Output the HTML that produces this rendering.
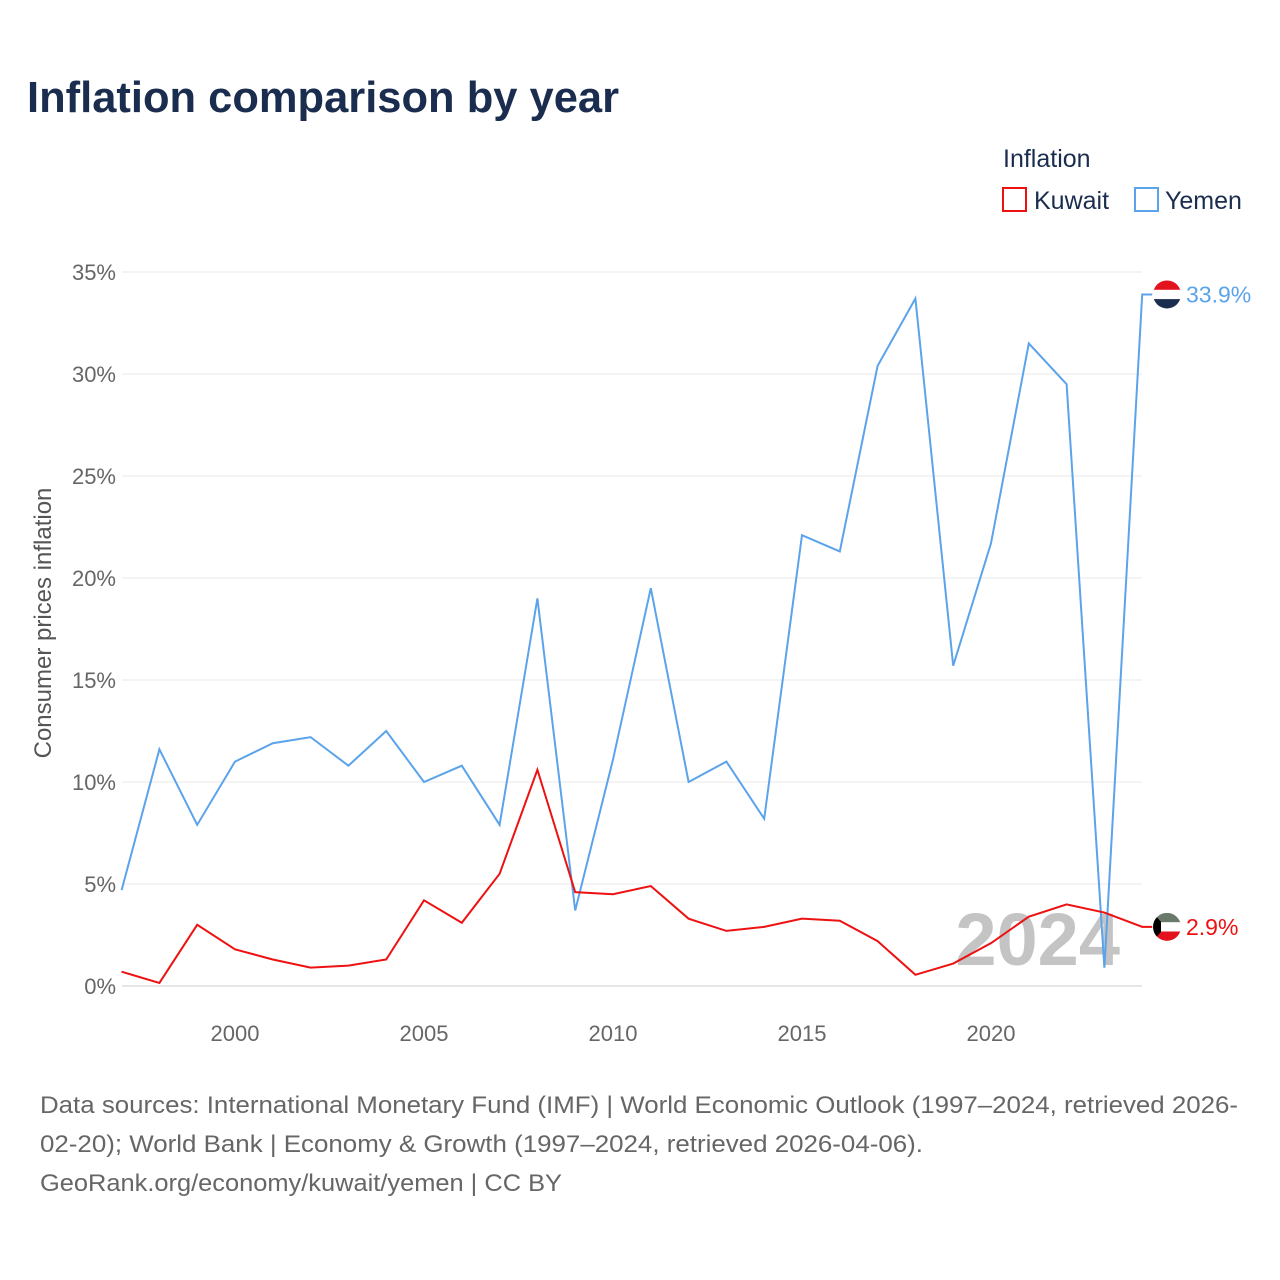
<!DOCTYPE html>
<html><head><meta charset="utf-8"><style>
body{margin:0;background:#fff;font-family:"Liberation Sans",sans-serif;}
#wrap{position:relative;width:1280px;height:1280px;overflow:hidden;}
</style></head><body>
<div id="wrap">
<svg id="chart" width="1280" height="1280">
<text x="27" y="112" font-size="44" font-weight="bold" fill="#1b2d4f" textLength="592" lengthAdjust="spacingAndGlyphs">Inflation comparison by year</text>
<text x="1003" y="167" font-size="25" fill="#1b2d4f">Inflation</text>
<rect x="1003" y="188" width="23" height="23" fill="none" stroke="#ee1111" stroke-width="2"/>
<text x="1034" y="209" font-size="25" fill="#1b2d4f">Kuwait</text>
<rect x="1135" y="188" width="23" height="23" fill="none" stroke="#5ba3ea" stroke-width="2"/>
<text x="1165" y="209" font-size="25" fill="#1b2d4f">Yemen</text>
<g id="grid"></g><g id="xt"></g>
<text x="1120" y="965" font-size="74" font-weight="bold" fill="#c4c4c4" text-anchor="end">2024</text>
<g id="lines"></g>
<text transform="translate(51,623) rotate(-90)" font-size="24" fill="#555" text-anchor="middle">Consumer prices inflation</text>
<text font-size="24" fill="#666"><tspan x="40" y="1113" textLength="1198" lengthAdjust="spacingAndGlyphs">Data sources: International Monetary Fund (IMF) | World Economic Outlook (1997–2024, retrieved 2026-</tspan><tspan x="40" y="1152" textLength="883" lengthAdjust="spacingAndGlyphs">02-20); World Bank | Economy &amp; Growth (1997–2024, retrieved 2026-04-06).</tspan><tspan x="40" y="1191" textLength="522" lengthAdjust="spacingAndGlyphs">GeoRank.org/economy/kuwait/yemen | CC BY</tspan></text>
</svg></div>
<script>
const years=[1997,1998,1999,2000,2001,2002,2003,2004,2005,2006,2007,2008,2009,2010,2011,2012,2013,2014,2015,2016,2017,2018,2019,2020,2021,2022,2023,2024];
const yemen=[4.7,11.6,7.9,11.0,11.9,12.2,10.8,12.5,10.0,10.8,7.9,19.0,3.7,11.1,19.5,10.0,11.0,8.2,22.1,21.3,30.4,33.7,15.7,21.7,31.5,29.5,0.9,33.9];
const kuwait=[0.7,0.15,3.0,1.8,1.3,0.9,1.0,1.3,4.2,3.1,5.5,10.6,4.6,4.5,4.9,3.3,2.7,2.9,3.3,3.2,2.2,0.55,1.1,2.1,3.4,4.0,3.6,2.9];
const yTicks=[0,5,10,15,20,25,30,35];
const xTicks=[2000,2005,2010,2015,2020];
const X=v=>121.6+(v-1997)*37.8, Y=v=>986-v*20.4;
const NS="http://www.w3.org/2000/svg";
function mk(t,a,p){const e=document.createElementNS(NS,t);for(const k in a)e.setAttribute(k,a[k]);p.appendChild(e);return e;}
const g=document.getElementById('grid'),xt=document.getElementById('xt'),L=document.getElementById('lines');
yTicks.forEach(v=>{
 const l=mk('line',{x1:122,x2:1142,y1:Y(v),y2:Y(v),stroke:v==0?'#ccc':'#e8e8e8','stroke-width':1},g);
 
 
 const t=mk('text',{x:116,y:Y(v)+8,'font-size':22,fill:'#666','text-anchor':'end'},g);t.textContent=v+'%';
 
 
});
xTicks.forEach(v=>{
 const t=mk('text',{x:X(v),y:1041,'font-size':22,fill:'#666','text-anchor':'middle'},xt);t.textContent=v;
 
 
});
function series(d,c,name,flag){
 let pts=d.map((v,i)=>X(years[i])+','+Y(v)).join(' ');
 const last=d[d.length-1];
 pts+=' '+(X(years[years.length-1])+10)+','+Y(last);
 const p=mk('polyline',{points:pts,fill:'none',stroke:c,'stroke-width':2},L);
 
 
 const cx=1167,cy=Y(last);
 const cl=mk('clipPath',{id:'c'+name},L);mk('circle',{cx:cx,cy:cy,r:14},cl);
 const fg=mk('g',{'clip-path':'url(#c'+name+')'},L);
 
 
 flag.forEach((col,i)=>mk('rect',{x:cx-14,y:cy-14+i*28/3,width:28,height:28/3+0.5,fill:col},fg));
 if(name=='kuwait')mk('polygon',{points:(cx-14)+','+(cy-14)+' '+(cx-6)+','+(cy-5)+' '+(cx-6)+','+(cy+5)+' '+(cx-14)+','+(cy+14),fill:'#000'},fg);
 const t=mk('text',{x:1186,y:cy+8,'font-size':23,fill:c},L);t.textContent=last.toFixed(1)+'%';
 
 
}
series(yemen,'#5ba3ea','yemen',['#e4121c','#ffffff','#1b2d4f']);
series(kuwait,'#ee1111','kuwait',['#6a7a6a','#ffffff','#e4121c']);
</script>
</body></html>
